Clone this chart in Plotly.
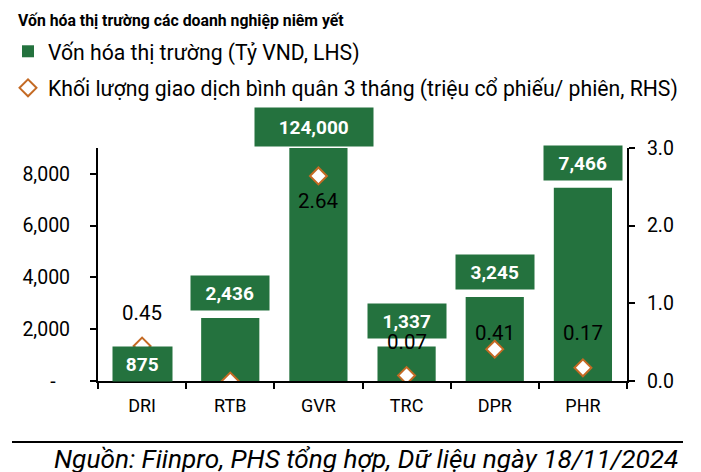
import plotly.graph_objects as go

categories = ["DRI", "RTB", "GVR", "TRC", "DPR", "PHR"]
market_cap = [875, 2436, 124000, 1337, 3245, 7466]          # Tỷ VND (LHS)
avg_volume = [0.45, 0.00, 2.64, 0.07, 0.41, 0.17]           # triệu cp/phiên (RHS)
volume_labels = ["0.45", "", "2.64", "0.07", "0.41", "0.17"]
left_ticks = [0, 2000, 4000, 6000, 8000]
left_ticktext = ["-\u00a0\u00a0\u00a0", "2,000", "4,000", "6,000", "8,000"]
right_ticks = [0, 1, 2, 3]

LEFT_MAX = 9000
RIGHT_MAX = 3.0

GREEN = "rgb(36,114,62)"
ORANGE = "rgb(196,106,36)"
FONT = "Roboto"

# label style (pixels)
bar_label_shift = [-6, 25, 21, 25, 25, 25]
bar_label_xshift = [0, 0, -4, 0, 0, 0]
bar_label_pad = [27, 25, 44, 25, 25, 25]
bar_label_h = [34, 34, 38, 34, 34, 34]
vol_label_shift = [33, 0, -25, 34, 16, 35]

# page has an 8px body margin: figure is 693x464 placed at (8,8)
W, H = 693, 464
ML, MT, PW, PH = 90, 140, 529, 233

fig = go.Figure()
fig.add_trace(go.Bar(
    x=categories, y=market_cap, name="Vốn hóa thị trường (Tỷ VND, LHS)",
    marker=dict(color=GREEN, line=dict(width=0)), yaxis="y",
    legendgroup="a"))
fig.add_trace(go.Scatter(
    x=categories, y=avg_volume, yaxis="y2", mode="markers",
    name="Khối lượng giao dịch bình quân 3 tháng (triệu cổ phiếu/ phiên, RHS)",
    marker=dict(symbol="diamond", size=13, color="white",
                line=dict(color=ORANGE, width=2)),
    legendgroup="b"))

annotations = []
for c, v, s, xs, p, h in zip(categories, market_cap, bar_label_shift,
                             bar_label_xshift, bar_label_pad, bar_label_h):
    txt = f"{v:,}"
    annotations.append(dict(
        x=c, y=min(v, LEFT_MAX), xref="x", yref="y", yshift=s, xshift=xs,
        text=f"<b>{txt}</b>", showarrow=False,
        font=dict(family=FONT, size=19, color="white"),
        bgcolor=GREEN, borderpad=0, width=len(txt) * 10.5 + p, height=h,
        xanchor="center", yanchor="middle"))
for c, v, t, s in zip(categories, avg_volume, volume_labels, vol_label_shift):
    if not t:
        continue
    annotations.append(dict(
        x=c, y=v, xref="x", yref="y2", yshift=s, text=t, showarrow=False,
        font=dict(family=FONT, size=20.5, color="black"),
        xanchor="center", yanchor="middle"))

annotations.append(dict(
    xref="paper", yref="paper", x=1, y=0, xanchor="right", yanchor="middle",
    text="<i>Nguồn: Fiinpro, PHS tổng hợp, Dữ liệu ngày 18/11/2024</i>",
    showarrow=False, font=dict(family=FONT, size=26.2, color="black"),
    xshift=53, yshift=-78))

fig.update_layout(
    width=W, height=H,
    margin=dict(l=ML, r=W - ML - PW, t=MT, b=H - MT - PH, autoexpand=False),
    paper_bgcolor="white", plot_bgcolor="white",
    font=dict(family=FONT, size=18, color="black"),
    title=dict(text="<b>Vốn hóa thị trường các doanh nghiệp niêm yết</b>",
               xref="container", yref="container", x=10/W, y=1-12/H,
               xanchor="left", yanchor="middle",
               font=dict(family=FONT, size=15.8, color="black")),
    showlegend=True,
    legend=dict(xref="container", yref="container", x=0, y=1-23/H,
                xanchor="left", yanchor="top", orientation="v",
                traceorder="grouped", tracegroupgap=6,
                font=dict(family=FONT, size=21.2, color="black"),
                bgcolor="rgba(0,0,0,0)"),
    bargap=0.34,
    xaxis=dict(showline=True, linecolor="black", linewidth=2,
               ticks="outside", tickson="boundaries", ticklen=6,
               tickcolor="black", tickwidth=2, ticklabelstandoff=7,
               tickfont=dict(family=FONT, size=18), showgrid=False),
    yaxis=dict(range=[0, LEFT_MAX], tickvals=left_ticks, ticktext=left_ticktext,
               showline=True, linecolor="black", linewidth=2,
               ticks="outside", ticklen=6, tickcolor="black", tickwidth=2,
               ticklabelstandoff=16,
               showgrid=False, zeroline=False,
               tickfont=dict(family=FONT, size=19.5)),
    yaxis2=dict(range=[0, RIGHT_MAX], tickvals=right_ticks, tickformat=".1f",
                overlaying="y", side="right", anchor="x",
                showline=True, linecolor="black", linewidth=2,
                ticks="outside", ticklen=6, tickcolor="black", tickwidth=2,
                ticklabelstandoff=8,
                showgrid=False, zeroline=False,
                tickfont=dict(family=FONT, size=19.5)),
    annotations=annotations,
    shapes=[dict(type="line", xref="paper", yref="paper",
                 x0=(4-ML)/PW, x1=(675-ML)/PW, y0=-61/PH, y1=-61/PH,
                 line=dict(color="black", width=2))],
)

fig.write_html("out.html")
